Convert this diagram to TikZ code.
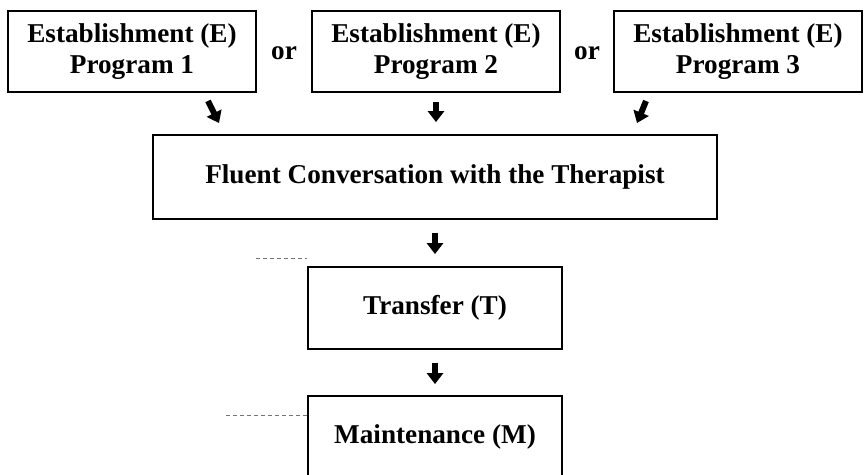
\documentclass[tikz,border=0pt]{standalone}
\usepackage{fontspec}
\setmainfont{Liberation Serif}
\usetikzlibrary{arrows.meta}
\tikzset{
  stage box/.style={
    draw=black,line width=0.9pt,align=center,inner sep=0pt,
    font=\fontsize{13.6}{15.5}\selectfont\bfseries
  },
  prog box/.style={stage box,minimum width=124pt,minimum height=40.5pt},
  flow arrow/.style={black,line width=3pt,-{Triangle[width=8pt,length=5.5pt]}},
  or label/.style={font=\fontsize{13.6}{15.5}\selectfont\bfseries},
  scan mark/.style={black!55,line width=0.4pt,dash pattern=on 2pt off 1.5pt}
}

\begin{document}
\begin{tikzpicture}[x=0.5pt,y=-0.5pt]
  \useasboundingbox (0,0) rectangle (866,475);
  % establishment programs
  \node[prog box] (e1) at (132,51.5) {Establishment (E)\\Program 1};
  \node[prog box] (e2) at (436,51.5) {Establishment (E)\\Program 2};
  \node[prog box] (e3) at (738,51.5) {Establishment (E)\\Program 3};
  \node[or label] (or1) at (284,53) {or};
  \node[or label] (or2) at (587,53) {or};
  % main sequence
  \node[stage box,minimum width=282pt,minimum height=42pt] (fc) at (435,177)
    {Fluent Conversation with the Therapist};
  \node[stage box,minimum width=127pt,minimum height=41pt] (tr) at (435,308)
    {Transfer (T)};
  \node[stage box,minimum width=127pt,minimum height=41pt] (mt) at (435,437)
    {Maintenance (M)};
  % arrows
  \coordinate (a1) at (208,101);
  \coordinate (a1t) at (219,123);
  \coordinate (a3) at (646,101);
  \coordinate (a3t) at (637,123);
  \draw[flow arrow] (a1) -- (a1t);
  \draw[flow arrow] ([yshift=-4.5pt]e2.south) -- ([yshift=6pt]e2.south |- fc.north);
  \draw[flow arrow] (a3) -- (a3t);
  \draw[flow arrow] ([yshift=-6.5pt]fc.south) -- ([yshift=6pt]tr.north);
  \draw[flow arrow] ([yshift=-6.5pt]tr.south) -- ([yshift=5.5pt]mt.north);
  % faint marks
  \coordinate (trm) at (256,258);
  \coordinate (mtm) at (226,415);
  \draw[scan mark] (trm) -- (tr.west |- trm);
  \draw[scan mark] (mtm) -- (mt.west |- mtm);
\end{tikzpicture}
\end{document}
